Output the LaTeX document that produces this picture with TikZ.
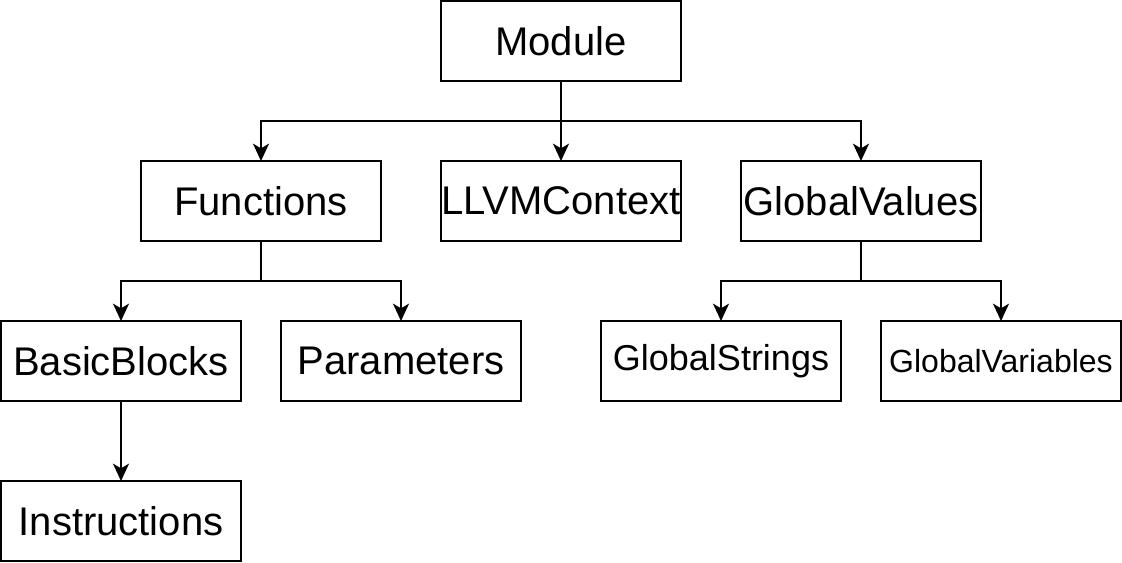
\documentclass[tikz,border=0pt]{standalone}
\usepackage{fontspec}
\setmainfont{Liberation Sans}
\usepackage{tikz}
\usetikzlibrary{arrows.meta,positioning}
\tikzstyle{block} = [draw, line width=1.5pt, outer sep=0pt, minimum width=180pt, minimum height=60pt, inner sep=0pt, font=\fontsize{30}{36}\selectfont]
\tikzstyle{arrow} = [line width=1.5pt, -{Stealth[length=13pt, width=12pt, inset=3.5pt]}]

\begin{document}
\begin{tikzpicture}
\useasboundingbox (0,0) rectangle (841.5pt,-421.5pt);
%\begin{scope}[yshift=0]
 \node[block] (module) at (420.75pt,-30.75pt) {Module};
 \node[block, below=60pt of module] (llvm) {LLVMContext};
 \node[block, left=45pt of llvm] (functions) {Functions};
 \node[block, right=45pt of llvm] (globals) {GlobalValues};
 \node[block, below=60pt of functions, xshift=-105pt] (blocks) {BasicBlocks};
 \node[block, right=30pt of blocks] (params) {Parameters};
 \node[block, below=60pt of blocks] (instrs) {Instructions};
 \node[block, below=60pt of globals, xshift=-105pt, font=\fontsize{27}{32}\selectfont] (strings) {GlobalStrings};
 \node[block, right=30pt of strings, font=\fontsize{24}{29}\selectfont] (vars) {GlobalVariables};

 \draw[arrow] (module.south) -- ++(0,-30pt) -| (functions.north);
 \draw[arrow] (module.south) -- (llvm.north);
 \draw[arrow] (module.south) -- ++(0,-30pt) -| (globals.north);
 \draw[arrow] (functions.south) -- ++(0,-30pt) -| (blocks.north);
 \draw[arrow] (functions.south) -- ++(0,-30pt) -| (params.north);
 \draw[arrow] (globals.south) -- ++(0,-30pt) -| (strings.north);
 \draw[arrow] (globals.south) -- ++(0,-30pt) -| (vars.north);
 \draw[arrow] (blocks.south) -- (instrs.north);
%\end{scope}
\end{tikzpicture}
\end{document}
